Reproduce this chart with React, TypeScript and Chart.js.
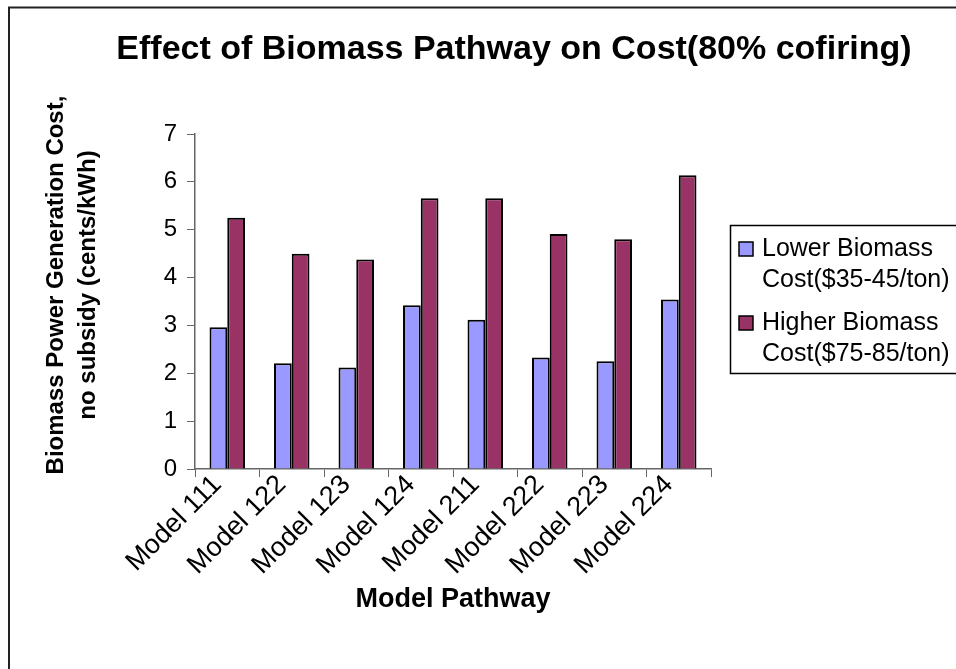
import React, { useEffect, useRef } from "react";
import { Chart, registerables } from "chart.js";

Chart.register(...registerables);

const categories = [
  "Model 111",
  "Model 122",
  "Model 123",
  "Model 124",
  "Model 211",
  "Model 222",
  "Model 223",
  "Model 224",
];
const lowerCost = [2.96, 2.21, 2.12, 3.42, 3.12, 2.33, 2.25, 3.54];
const higherCost = [5.25, 4.5, 4.38, 5.66, 5.66, 4.91, 4.8, 6.14];
const lowerLabel = ["Lower Biomass", "Cost($35-45/ton)"];
const higherLabel = ["Higher Biomass", "Cost($75-85/ton)"];
const chartTitle = "Effect of Biomass Pathway on Cost(80% cofiring)";
const yTitle = ["Biomass Power Generation Cost,", "no subsidy (cents/kWh)"];
const xTitle = "Model Pathway";
const yMin = 0;
const yMax = 7;
const yStep = 1;

const FONT = "'Liberation Sans', Arial, sans-serif";

const frameAndLegend = {
  id: "frameAndLegend",
  beforeDraw(chart: any) {
    const ctx = chart.ctx;
    ctx.save();
    ctx.fillStyle = "#ffffff";
    ctx.fillRect(0, 0, chart.width, chart.height);
    ctx.strokeStyle = "#222222";
    ctx.lineWidth = 2;
    ctx.beginPath();
    ctx.moveTo(9, chart.height);
    ctx.lineTo(9, 7.5);
    ctx.lineTo(chart.width, 7.5);
    ctx.stroke();
    ctx.restore();
  },
  afterDraw(chart: any) {
    const ctx = chart.ctx;
    ctx.save();
    // chart title
    ctx.fillStyle = "#000000";
    ctx.textAlign = "center";
    ctx.textBaseline = "middle";
    ctx.font = `bold 34px ${FONT}`;
    ctx.fillText(chartTitle, 514, 50);
    // y axis title
    ctx.save();
    ctx.translate(0, 285);
    ctx.rotate(-Math.PI / 2);
    ctx.font = `bold 24px ${FONT}`;
    ctx.fillText(yTitle[0], 0, 56);
    ctx.fillText(yTitle[1], 0, 88);
    ctx.restore();
    // legend
    const bx = 730.5;
    const by = 225.5;
    const bw = 240;
    const bh = 148;
    ctx.fillStyle = "#ffffff";
    ctx.fillRect(bx, by, bw, bh);
    ctx.strokeStyle = "#000000";
    ctx.lineWidth = 1.5;
    ctx.strokeRect(bx, by, bw, bh);
    ctx.font = `25px ${FONT}`;
    ctx.textBaseline = "alphabetic";
    ctx.textAlign = "left";
    chart.data.datasets.forEach((ds: any, i: number) => {
      const top = 242 + i * 74;
      ctx.fillStyle = ds.backgroundColor;
      ctx.fillRect(739, top, 14, 14);
      ctx.strokeStyle = "#000000";
      ctx.lineWidth = 1.5;
      ctx.strokeRect(739, top, 14, 14);
      ctx.fillStyle = "#000000";
      const lines: string[] = ds.legendLines;
      lines.forEach((t, j) => {
        ctx.fillText(t, 762, top + 14 + j * 31);
      });
    });
    ctx.restore();
  },
};

export default function App() {
  const ref = useRef<HTMLCanvasElement | null>(null);

  useEffect(() => {
    document.body.style.margin = "0";
    document.body.style.overflow = "hidden";
    const canvas = ref.current;
    if (!canvas) return;
    const chart = new Chart(canvas, {
      type: "bar",
      data: {
        labels: categories,
        datasets: [
          {
            label: lowerLabel.join(" "),
            legendLines: lowerLabel,
            data: lowerCost,
            backgroundColor: "#9999FF",
            borderColor: "#000000",
            borderWidth: 2,
            categoryPercentage: 0.55,
            barPercentage: 1,
          } as any,
          {
            label: higherLabel.join(" "),
            legendLines: higherLabel,
            data: higherCost,
            backgroundColor: "#993366",
            borderColor: "#000000",
            borderWidth: 2,
            categoryPercentage: 0.55,
            barPercentage: 1,
          } as any,
        ],
      },
      options: {
        animation: false,
        responsive: false,
        maintainAspectRatio: false,
        layout: { padding: { left: 0, right: 245, top: 134, bottom: 0 } },
        plugins: {
          legend: { display: false },
          tooltip: { enabled: false },
          title: { display: false },
        },
        scales: {
          x: {
            offset: true,
            grid: {
              offset: true,
              drawOnChartArea: false,
              drawTicks: true,
              tickLength: 8,
              color: "#666666",
            },
            border: { color: "#666666", width: 1.5 },
            ticks: {
              color: "#000000",
              font: { family: FONT, size: 27 },
              maxRotation: 45,
              minRotation: 45,
              padding: -8,
              labelOffset: -10,
              autoSkip: false,
            },
            title: {
              display: true,
              text: xTitle,
              color: "#000000",
              font: { family: FONT, size: 27, weight: "bold", lineHeight: 1.2 },
              padding: { top: 0, bottom: 53 },
            },
            afterFit: (scale: any) => {
              scale.height = 200;
            },
          },
          y: {
            min: yMin,
            max: yMax,
            grid: {
              drawOnChartArea: false,
              drawTicks: true,
              tickLength: 8,
              color: "#666666",
            },
            border: { color: "#666666", width: 1.5 },
            ticks: {
              stepSize: yStep,
              color: "#000000",
              font: { family: FONT, size: 24 },
              padding: 10,
            },
            afterFit: (scale: any) => {
              scale.width = 195;
            },
          },
        },
      },
      plugins: [frameAndLegend],
    });
    return () => chart.destroy();
  }, []);

  return (
    <div style={{ width: 956, height: 669, position: "relative" }}>
      <canvas ref={ref} width={956} height={669} style={{ display: "block" }} />
    </div>
  );
}
